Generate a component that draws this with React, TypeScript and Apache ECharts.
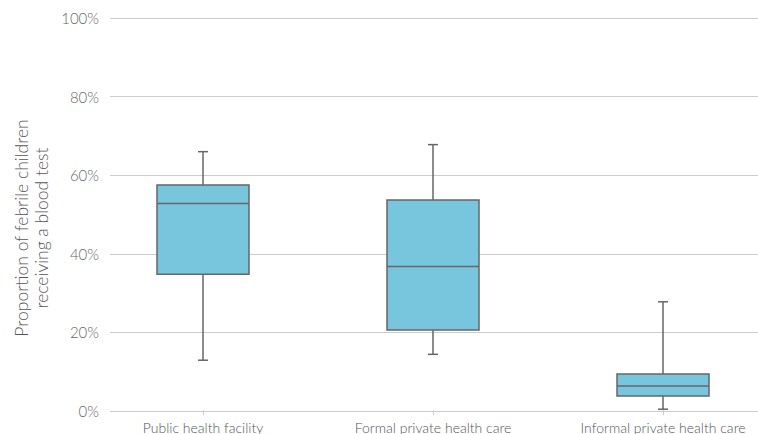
import React, { useEffect, useRef } from "react";
import * as echarts from "echarts";

const categories = ["Public health facility", "Formal private health care", "Informal private health care"];
const minValues = [12.7, 14.2, 0.2];
const q1Values = [34.6, 20.4, 3.6];
const medianValues = [52.7, 36.6, 6.1];
const q3Values = [57.4, 53.6, 9.2];
const maxValues = [65.9, 67.7, 27.6];
const yTicks = [0, 20, 40, 60, 80, 100];

const FONT = "Lato, 'Open Sans', sans-serif";

export default function App() {
  const ref = useRef<HTMLDivElement>(null);
  useEffect(() => {
    if (!ref.current) return;
    const chart = echarts.init(ref.current, undefined, { renderer: "svg" });
    const data = categories.map((_, i) => [i, minValues[i], q1Values[i], medianValues[i], q3Values[i], maxValues[i]]);
    const stroke = "#666666";
    chart.setOption({
      animation: false,
      backgroundColor: "#ffffff",
      textStyle: { fontFamily: FONT },
      grid: [
        { left: 110, right: 20, top: 18, bottom: 23 },
        { left: 88, right: 0, top: 18, bottom: 23 },
      ],
      xAxis: [
        { type: "category", gridIndex: 0, data: categories, show: false },
        {
          type: "category",
          gridIndex: 1,
          data: categories,
          axisLine: { show: false },
          axisTick: { show: true, alignWithLabel: true, length: 5, lineStyle: { color: "#cccccc" } },
          axisLabel: { interval: 0, fontSize: 14, color: "#555555", margin: 10, fontFamily: FONT, fontWeight: 300 },
        },
      ],
      yAxis: [
        {
          type: "value",
          gridIndex: 0,
          min: yTicks[0],
          max: yTicks[yTicks.length - 1],
          interval: 20,
          axisLine: { show: false },
          axisTick: { show: false },
          axisLabel: { formatter: "{value}%", fontSize: 15, color: "#666666", margin: 11, fontFamily: FONT, fontWeight: 300 },
          splitLine: { lineStyle: { color: "#cccccc", width: 1 } },
        },
        { type: "value", gridIndex: 1, min: 0, max: 100, show: false, splitLine: { show: false } },
      ],
      graphic: [
        {
          type: "text",
          x: 31,
          y: 228,
          rotation: Math.PI / 2,
          style: {
            text: "Proportion of febrile children\nreceiving a blood test",
            align: "center",
            verticalAlign: "middle",
            fontSize: 17.5,
            lineHeight: 20,
            fontFamily: FONT,
            fontWeight: 300,
            fill: "#555555",
          },
        },
      ],
      series: [
        {
          type: "custom",
          xAxisIndex: 1,
          yAxisIndex: 1,
          data,
          encode: { x: 0, y: [1, 2, 3, 4, 5] },
          renderItem: (params: any, api: any) => {
            const idx = api.value(0);
            const pMin = api.coord([idx, api.value(1)]);
            const pQ1 = api.coord([idx, api.value(2)]);
            const pMed = api.coord([idx, api.value(3)]);
            const pQ3 = api.coord([idx, api.value(4)]);
            const pMax = api.coord([idx, api.value(5)]);
            const bw = api.size([1, 0])[0] * 0.4;
            const cx = pMed[0];
            const cap = 5;
            const ls = { stroke, lineWidth: 1.5 };
            return {
              type: "group",
              children: [
                { type: "line", shape: { x1: cx, y1: pMax[1], x2: cx, y2: pQ3[1] }, style: ls },
                { type: "line", shape: { x1: cx, y1: pQ1[1], x2: cx, y2: pMin[1] }, style: ls },
                { type: "line", shape: { x1: cx - cap, y1: pMax[1], x2: cx + cap, y2: pMax[1] }, style: ls },
                { type: "line", shape: { x1: cx - cap, y1: pMin[1], x2: cx + cap, y2: pMin[1] }, style: ls },
                {
                  type: "rect",
                  shape: { x: cx - bw / 2, y: pQ3[1], width: bw, height: pQ1[1] - pQ3[1] },
                  style: { fill: "#78C6DE", stroke, lineWidth: 1.5 },
                },
                { type: "line", shape: { x1: cx - bw / 2, y1: pMed[1], x2: cx + bw / 2, y2: pMed[1] }, style: ls },
              ],
            };
          },
        },
      ],
    });
    return () => chart.dispose();
  }, []);
  return <div ref={ref} style={{ position: "fixed", left: 0, top: 0, width: 778, height: 434 }} />;
}
